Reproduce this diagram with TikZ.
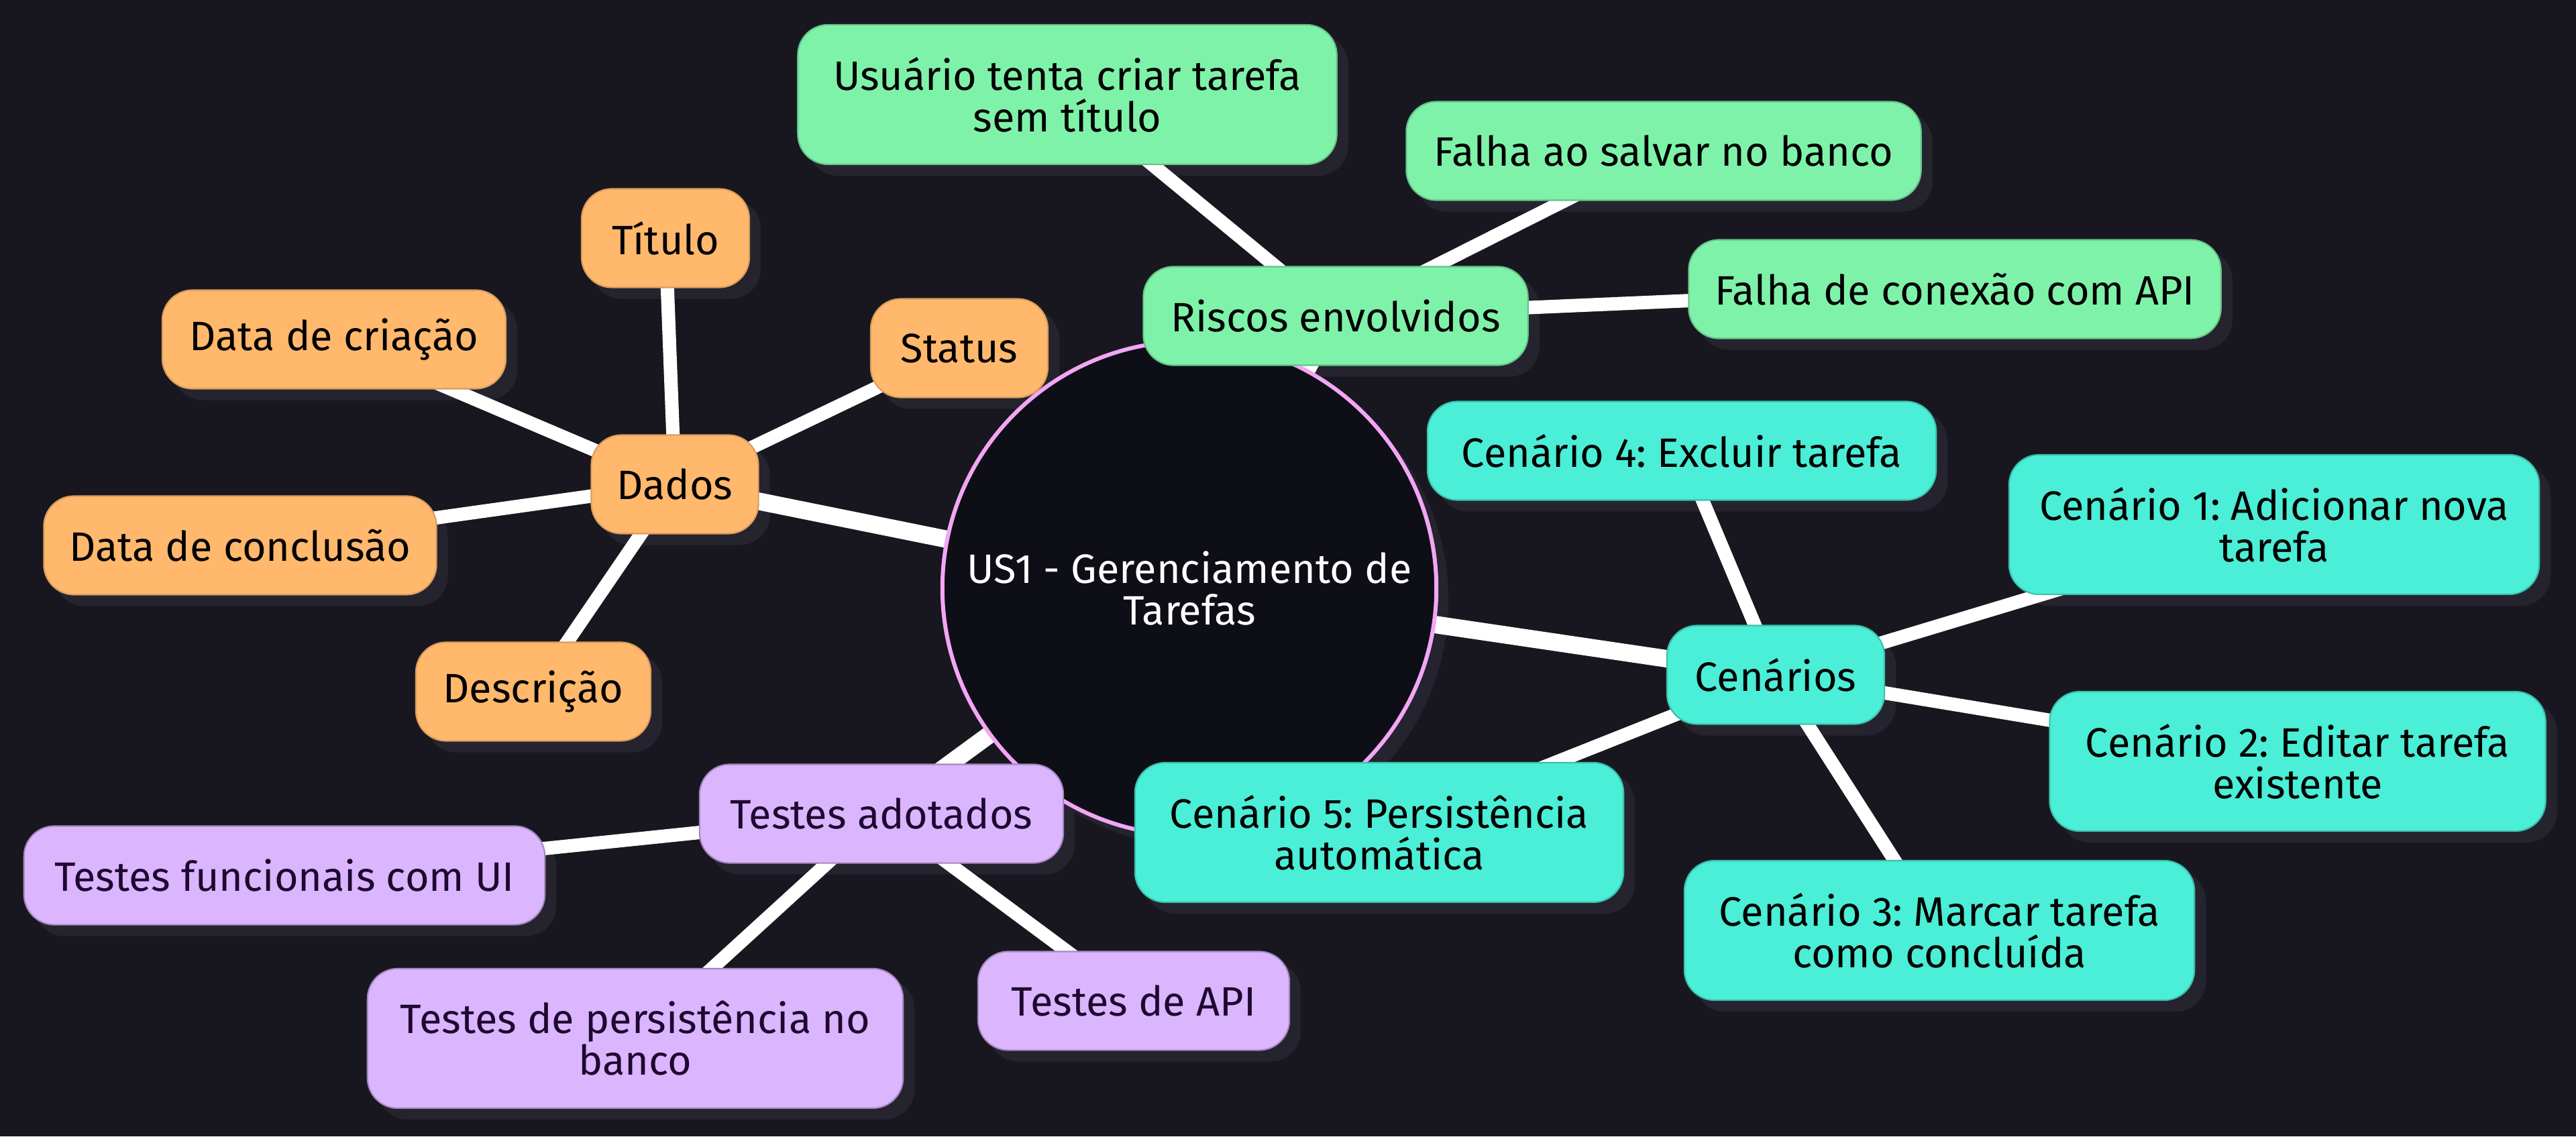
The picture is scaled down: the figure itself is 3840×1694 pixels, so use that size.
\documentclass[tikz,border=0pt]{standalone}
\usepackage{fontspec}
\setmainfont{Fira Sans}
\frenchspacing
\definecolor{fundo}{HTML}{18171F}
\definecolor{sombra}{HTML}{25232E}
\definecolor{raiz}{HTML}{0E0E16}
\definecolor{rosa}{HTML}{F2A6F4}
\definecolor{laranja}{HTML}{FFB86C}
\definecolor{verde}{HTML}{7FF2AA}
\definecolor{ciano}{HTML}{4BEED6}
\definecolor{lilas}{HTML}{DBB5FD}
\definecolor{roxoesc}{HTML}{1E0830}
\pgfdeclarelayer{camadafundo}
\pgfdeclarelayer{camadasombra}
\pgfdeclarelayer{camadaligacao}
\pgfsetlayers{camadafundo,camadasombra,camadaligacao,main}
\tikzset{
  ramo/.style={rounded corners=0.45cm, inner sep=0pt, align=center, minimum height=1.47cm,
    line width=0.6pt, font=\fontsize{17.4}{17.6}\selectfont},
  duaslinhas/.style={minimum height=2.08cm},
  dado/.style={ramo, fill=laranja, draw=laranja!85!black},
  risco/.style={ramo, fill=verde, draw=verde!80!black},
  cena/.style={ramo, fill=ciano, draw=ciano!80!black},
  teste/.style={ramo, fill=lilas, draw=lilas!75!black, text=roxoesc},
  ligacao/.style={white, line width=0.26cm},
  subligacao/.style={white, line width=0.2cm}
}
\begin{document}
\begin{tikzpicture}[x=0.01cm, y=-0.01cm]
\useasboundingbox (0,0) rectangle (3840,1694);
\begin{pgfonlayer}{camadafundo}
  \fill[fundo] (0,0) rectangle (3840,1694);
\end{pgfonlayer}
% raiz
\node[circle, minimum size=7.36cm, inner sep=0pt, fill=raiz, draw=rosa, line width=0.06cm,
  text=white, align=center, font=\fontsize{17.4}{17.6}\selectfont] (us1) at (1773,877)
  {US1 - Gerenciamento de\\Tarefas};
% Dados
\node[dado, minimum width=2.49cm] (dados) at (1006,722) {Dados};
\node[dado, minimum width=2.50cm] (titulo) at (992,355) {Título};
\node[dado, minimum width=5.12cm] (criacao) at (498,506) {Data de criação};
\node[dado, minimum width=5.85cm] (conclusao) at (358,813) {Data de conclusão};
\node[dado, minimum width=3.50cm] (descricao) at (795,1031) {Descrição};
\node[dado, minimum width=2.64cm] (status) at (1430,519) {Status};
% Riscos
\node[risco, minimum width=5.73cm] (riscos) at (1991,471) {Riscos envolvidos};
\node[risco, duaslinhas, minimum width=8.03cm] (semtitulo) at (1591,141) {Usuário tenta criar tarefa\\sem título};
\node[risco, minimum width=7.67cm] (salvar) at (2480,225) {Falha ao salvar no banco};
\node[risco, minimum width=7.93cm] (conexao) at (2914,431) {Falha de conexão com API};
% Cenarios
\node[cena, minimum width=3.24cm] (cenarios) at (2647,1006) {Cenários};
\node[cena, minimum width=7.58cm] (cen4) at (2507,672) {Cenário 4: Excluir tarefa};
\node[cena, duaslinhas, minimum width=7.90cm] (cen1) at (3390,782) {Cenário 1: Adicionar nova\\tarefa};
\node[cena, duaslinhas, minimum width=7.39cm] (cen2) at (3425,1135) {Cenário 2: Editar tarefa\\existente};
\node[cena, duaslinhas, minimum width=7.60cm] (cen3) at (2891,1387) {Cenário 3: Marcar tarefa\\como concluída};
\node[cena, duaslinhas, minimum width=7.28cm] (cen5) at (2056,1241) {Cenário 5: Persistência\\automática};
% Testes
\node[teste, minimum width=5.42cm] (testes) at (1314,1213) {Testes adotados};
\node[teste, minimum width=7.76cm] (funcionais) at (424,1305) {Testes funcionais com UI};
\node[teste, duaslinhas, minimum width=7.98cm] (persist) at (947,1548) {Testes de persistência no\\banco};
\node[teste, minimum width=4.64cm] (api) at (1690,1492) {Testes de API};
% sombras
\begin{pgfonlayer}{camadasombra}
  \fill[sombra] ([shift={(18,18)}]us1.center) circle [radius=3.68cm];
  \foreach \n in {dados,titulo,criacao,conclusao,descricao,status,riscos,semtitulo,salvar,conexao,
    cenarios,cen1,cen2,cen3,cen4,cen5,testes,funcionais,persist,api}
    \fill[sombra, rounded corners=0.45cm] ([shift={(16,16)}]\n.south west) rectangle ([shift={(16,16)}]\n.north east);
\end{pgfonlayer}
% ligacoes
\begin{pgfonlayer}{camadaligacao}
  \foreach \b in {dados,riscos,cenarios,testes}
    \draw[ligacao] (us1.center) -- (\b.center);
  \foreach \a/\b in {dados/titulo,dados/criacao,dados/conclusao,dados/descricao,dados/status,
    riscos/semtitulo,riscos/salvar,riscos/conexao,
    cenarios/cen1,cenarios/cen2,cenarios/cen3,cenarios/cen4,cenarios/cen5,
    testes/funcionais,testes/persist,testes/api}
    \draw[subligacao] (\a.center) -- (\b.center);
\end{pgfonlayer}
\end{tikzpicture}
\end{document}
